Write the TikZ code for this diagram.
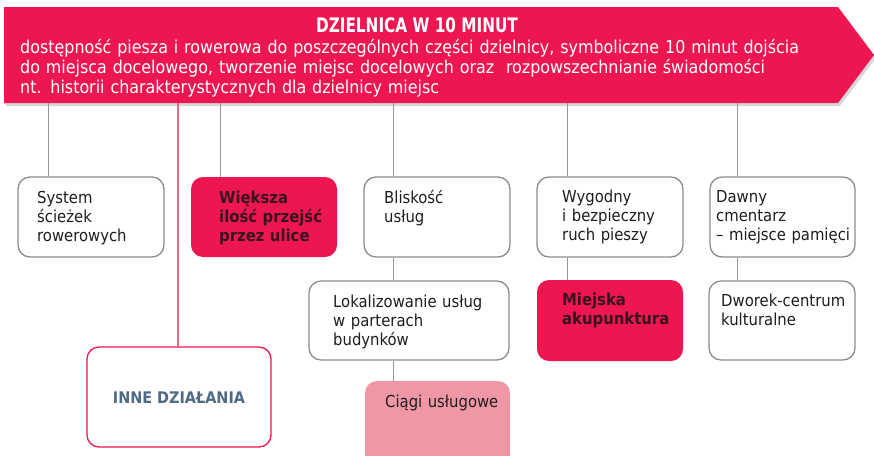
\documentclass[tikz,border=0pt]{standalone}
\usepackage{fontspec}
\usepackage{graphicx}
\setmainfont{DejaVu Sans Condensed}
\definecolor{pinkmain}{RGB}{237,22,80}
\definecolor{lightpink}{RGB}{240,151,166}
\definecolor{boxgray}{RGB}{140,140,140}
\definecolor{linegray}{RGB}{150,150,150}
\definecolor{linepink}{RGB}{240,100,130}
\definecolor{textdark}{RGB}{30,30,30}
\definecolor{pinktext}{RGB}{55,20,30}
\definecolor{slate}{RGB}{78,106,133}
\definecolor{shadowgray}{RGB}{215,215,215}
\begin{document}
\begin{tikzpicture}[x=1pt,y=-1pt,
  box/.style={draw=boxgray,line width=1.3pt,rounded corners=12pt,fill=white,minimum width=146pt,minimum height=80pt,inner sep=0pt},
  pbox/.style={fill=pinkmain,draw=none,rounded corners=12pt,minimum width=146pt,minimum height=80pt,inner sep=0pt},
  txt/.style={anchor=base west,align=left,text width=160pt,inner sep=0pt,text=textdark,font=\fontsize{16.5}{19}\selectfont},
  btxt/.style={txt,text=pinktext,font=\fontsize{16.5}{19}\selectfont\bfseries},
  conn/.style={draw=linegray,line width=0.9pt},
  pconn/.style={draw=linepink,line width=1.4pt}]
\useasboundingbox (0,0) rectangle (874,455);
% banner
\fill[shadowgray] (6,10) -- (840,10) -- (876,58) -- (840,106) -- (6,106) -- cycle;
\fill[pinkmain] (4,7) -- (838,7) -- (874,55) -- (838,103) -- (4,103) -- cycle;
\node[anchor=base,inner sep=0pt,text=white,font=\fontsize{20}{22}\selectfont\bfseries] (title) at (417,32) {\scalebox{0.85}[1]{DZIELNICA W 10 MINUT}};
\node[anchor=base west,align=left,text width=840pt,inner sep=0pt,text=white,font=\fontsize{17.7}{20.2}\selectfont] (sub) at (20,53)
 {dostępność piesza i rowerowa do poszczególnych części dzielnicy, symboliczne 10 minut dojścia\\
  do miejsca docelowego, tworzenie miejsc docelowych oraz~ rozpowszechnianie świadomości\\
  nt. historii charakterystycznych dla dzielnicy miejsc};
\coordinate (b1) at (48,103);
\coordinate (b2) at (178,103);
\coordinate (b3) at (220,103);
\coordinate (b4) at (393,103);
\coordinate (b5) at (567,103);
\coordinate (b6) at (737,103);
% boxes
\node[box] (A) at (91,217) {};
\node[pbox] (B) at (264,217) {};
\node[box] (C) at (437,217) {};
\node[box] (D) at (610,217) {};
\node[box,minimum width=145pt] (E) at (782.5,217) {};
\node[box,minimum width=200pt,minimum height=79pt] (F) at (409,320.5) {};
\node[pbox,minimum height=81pt] (H) at (610,320.5) {};
\node[box,minimum width=146pt,minimum height=79pt] (I) at (782,320.5) {};
\node[box,draw=pinkmain,minimum width=184pt,minimum height=100pt] (J) at (179,397) {};
\fill[lightpink,rounded corners=12pt] (365,470) -- (365,381) -- (510,381) -- (510,470);
\coordinate (G) at (393,381);
% connectors
\draw[conn] (b1) -- (b1 |- A.north);
\draw[pconn] (b2) -- (b2 |- J.north);
\draw[conn] (b3) -- (b3 |- B.north);
\draw[conn] (b4) -- (b4 |- C.north);
\draw[conn] (b5) -- (b5 |- D.north);
\draw[conn] (b6) -- (b6 |- E.north);
\draw[conn] (C.south -| b4) -- (F.north -| b4);
\draw[conn] (D.south -| b5) -- (H.north -| b5);
\draw[conn] (E.south -| b6) -- (I.north -| b6);
\draw[conn] (F.south -| b4) -- (G);
% texts
\node[txt] (tA) at (37,203) {System\\ścieżek\\rowerowych};
\node[btxt] (tB) at (219,203) {Większa\\ilość przejść\\przez ulice};
\node[txt] (tC) at (384,203) {Bliskość\\usług};
\node[txt] (tD) at (562,202) {Wygodny\\i bezpieczny\\ruch pieszy};
\node[txt] (tE) at (716,202) {Dawny\\cmentarz\\– miejsce pamięci};
\node[txt] (tF) at (333,307) {Lokalizowanie usług\\w parterach\\budynków};
\node[btxt] (tH) at (562,305) {Miejska\\akupunktura};
\node[txt] (tI) at (721,306) {Dworek-centrum\\kulturalne};
\node[anchor=base,inner sep=0pt,text=slate,font=\fontsize{16}{19}\selectfont\bfseries] (tJ) at (179,403) {INNE DZIAŁANIA};
\node[txt] (tG) at (385,407) {Ciągi usługowe};
\end{tikzpicture}
\end{document}
